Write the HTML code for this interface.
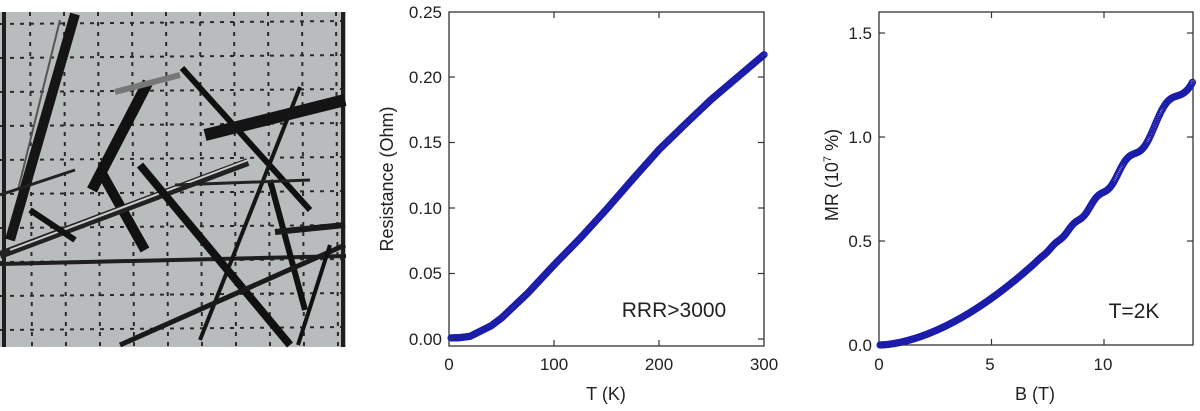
<!DOCTYPE html>
<html><head><meta charset="utf-8"><style>
html,body{margin:0;padding:0;background:#fff;width:1200px;height:411px;overflow:hidden}
svg{position:absolute;left:0;top:0}
text{font-family:"Liberation Sans",sans-serif;fill:#222}
</style></head><body>
<svg id="s" width="1200" height="411" viewBox="0 0 1200 411">
<rect x="0" y="12" width="346" height="335" fill="#b9bcbd"/>
<g id="grid" stroke="#2a2a2a" stroke-width="2" stroke-dasharray="4 6" fill="none"></g>
<g stroke="#1e1e1e" stroke-width="4" fill="none">
<line x1="0" y1="264" x2="346" y2="256"/>
<line x1="4" y1="12" x2="4" y2="347"/>
<line x1="343" y1="12" x2="343" y2="347"/>
</g>
<g stroke-linecap="butt" fill="none">
<line x1="75" y1="14" x2="10" y2="240" stroke="#151515" stroke-width="10"/>
<line x1="60" y1="20" x2="18" y2="190" stroke="#555" stroke-width="2"/>
<line x1="148" y1="82" x2="92" y2="190" stroke="#111" stroke-width="11"/>
<line x1="100" y1="170" x2="145" y2="250" stroke="#111" stroke-width="10"/>
<line x1="115" y1="92" x2="180" y2="75" stroke="#777" stroke-width="6"/>
<line x1="182" y1="68" x2="310" y2="210" stroke="#101010" stroke-width="6"/>
<line x1="205" y1="135" x2="345" y2="100" stroke="#141414" stroke-width="12"/>
<line x1="300" y1="87" x2="200" y2="340" stroke="#151515" stroke-width="4"/>
<line x1="248" y1="162" x2="0" y2="255" stroke="#222" stroke-width="8"/>
<line x1="248" y1="160" x2="10" y2="250" stroke="#ccc" stroke-width="2"/>
<line x1="140" y1="165" x2="290" y2="345" stroke="#111" stroke-width="8"/>
<line x1="30" y1="210" x2="75" y2="240" stroke="#111" stroke-width="6"/>
<line x1="0" y1="195" x2="75" y2="170" stroke="#222" stroke-width="3"/>
<line x1="270" y1="180" x2="305" y2="310" stroke="#111" stroke-width="6"/>
<line x1="275" y1="232" x2="345" y2="225" stroke="#1a1a1a" stroke-width="6"/>
<line x1="120" y1="345" x2="345" y2="245" stroke="#1a1a1a" stroke-width="5"/>
<line x1="330" y1="245" x2="298" y2="345" stroke="#111" stroke-width="4"/>
<line x1="175" y1="185" x2="310" y2="180" stroke="#222" stroke-width="3"/>
</g>
<rect x="449" y="12" width="315" height="334" fill="none" stroke="#333" stroke-width="1.3"/>
<g id="m1"></g>
<g font-size="17" text-anchor="end">
<text x="442" y="345">0.00</text><text x="442" y="279">0.05</text><text x="442" y="214">0.10</text>
<text x="442" y="148">0.15</text><text x="442" y="83">0.20</text><text x="442" y="18">0.25</text>
</g>
<g font-size="17" text-anchor="middle">
<text x="449" y="370">0</text><text x="554" y="370">100</text><text x="659" y="370">200</text><text x="764" y="370">300</text>
<text x="606" y="400" font-size="18">T (K)</text>
<text transform="translate(393,179) rotate(-90)" font-size="18">Resistance (Ohm)</text>
<text x="1134" y="318" font-size="21">T=2K</text>
<text x="674" y="317" font-size="21">RRR&gt;3000</text>
</g>
<rect x="879" y="12" width="314" height="333" fill="none" stroke="#333" stroke-width="1.3"/>
<g id="m2"></g>
<g font-size="17" text-anchor="end">
<text x="872" y="351">0.0</text><text x="872" y="247">0.5</text><text x="872" y="143">1.0</text><text x="872" y="39">1.5</text>
</g>
<g font-size="17" text-anchor="middle">
<text x="879" y="370">0</text><text x="990" y="370">5</text><text x="1103" y="370">10</text>
<text x="1035" y="400" font-size="18">B (T)</text>
<text transform="translate(838,175) rotate(-90)" font-size="18">MR (10<tspan font-size="11" dy="-7">7</tspan><tspan dy="7"> %)</tspan></text>
</g>
</svg>
<script>
var NS="http://www.w3.org/2000/svg",s=document.getElementById('s');
function el(p,n,a){var e=document.createElementNS(NS,n);for(var k in a)e.setAttribute(k,a[k]);p.appendChild(e);return e;}
var g=document.getElementById('grid');
for(var i=0;i<10;i++){var y=24+i*34;el(g,'line',{x1:0,y1:y,x2:346,y2:y-3});var x=30+i*34;el(g,'line',{x1:x,y1:12,x2:x+2,y2:347});}
var t=el(s,'g',{stroke:'#333','stroke-width':1.2});
[0,0.05,0.1,0.15,0.2].forEach(function(v){var y=339-v*1310;el(t,'line',{x1:449,y1:y,x2:455,y2:y});el(t,'line',{x1:764,y1:y,x2:758,y2:y});});
[100,200].forEach(function(v){var x=449+v*1.05;el(t,'line',{x1:x,y1:346,x2:x,y2:340});el(t,'line',{x1:x,y1:12,x2:x,y2:18});});
[0.5,1.0,1.5].forEach(function(v){var y=345-v*208;el(t,'line',{x1:879,y1:y,x2:885,y2:y});el(t,'line',{x1:1193,y1:y,x2:1187,y2:y});});
[5,10].forEach(function(v){var x=879+v*22.5;el(t,'line',{x1:x,y1:345,x2:x,y2:339});el(t,'line',{x1:x,y1:12,x2:x,y2:18});});
var P=[[0,0.0008],[10,0.001],[20,0.002],[30,0.006],[40,0.010],[50,0.016],[75,0.035],[100,0.0565],[125,0.077],[150,0.099],[175,0.122],[200,0.1445],[225,0.164],[250,0.183],[275,0.2],[300,0.217]];
function R(T){for(var i=0;i<P.length-1;i++)if(T<=P[i+1][0]){var a=P[i],b=P[i+1],f=(T-a[0])/(b[0]-a[0]);return a[1]+f*(b[1]-a[1]);}return 0.217;}
var m1=document.getElementById('m1');
for(var T=2;T<=300;T+=1){el(m1,'circle',{cx:449+T*1.05,cy:339-R(T)*1310,r:3,fill:'none',stroke:'#1c1caa','stroke-width':1.3});}
var m2=document.getElementById('m2');
for(var B=0.05;B<=13.95;B+=0.04){var v=1.32*Math.pow(B/14,1.72);var amp=0.05*Math.pow(Math.max(B-6.5,0)/7.5,1.6);v+=amp*Math.sin(2*Math.PI*(80/B-0.05));
el(m2,'circle',{cx:879+B*22.5,cy:345-v*208,r:3,fill:'none',stroke:'#1c1caa','stroke-width':1.3});}
</script>
</body></html>
